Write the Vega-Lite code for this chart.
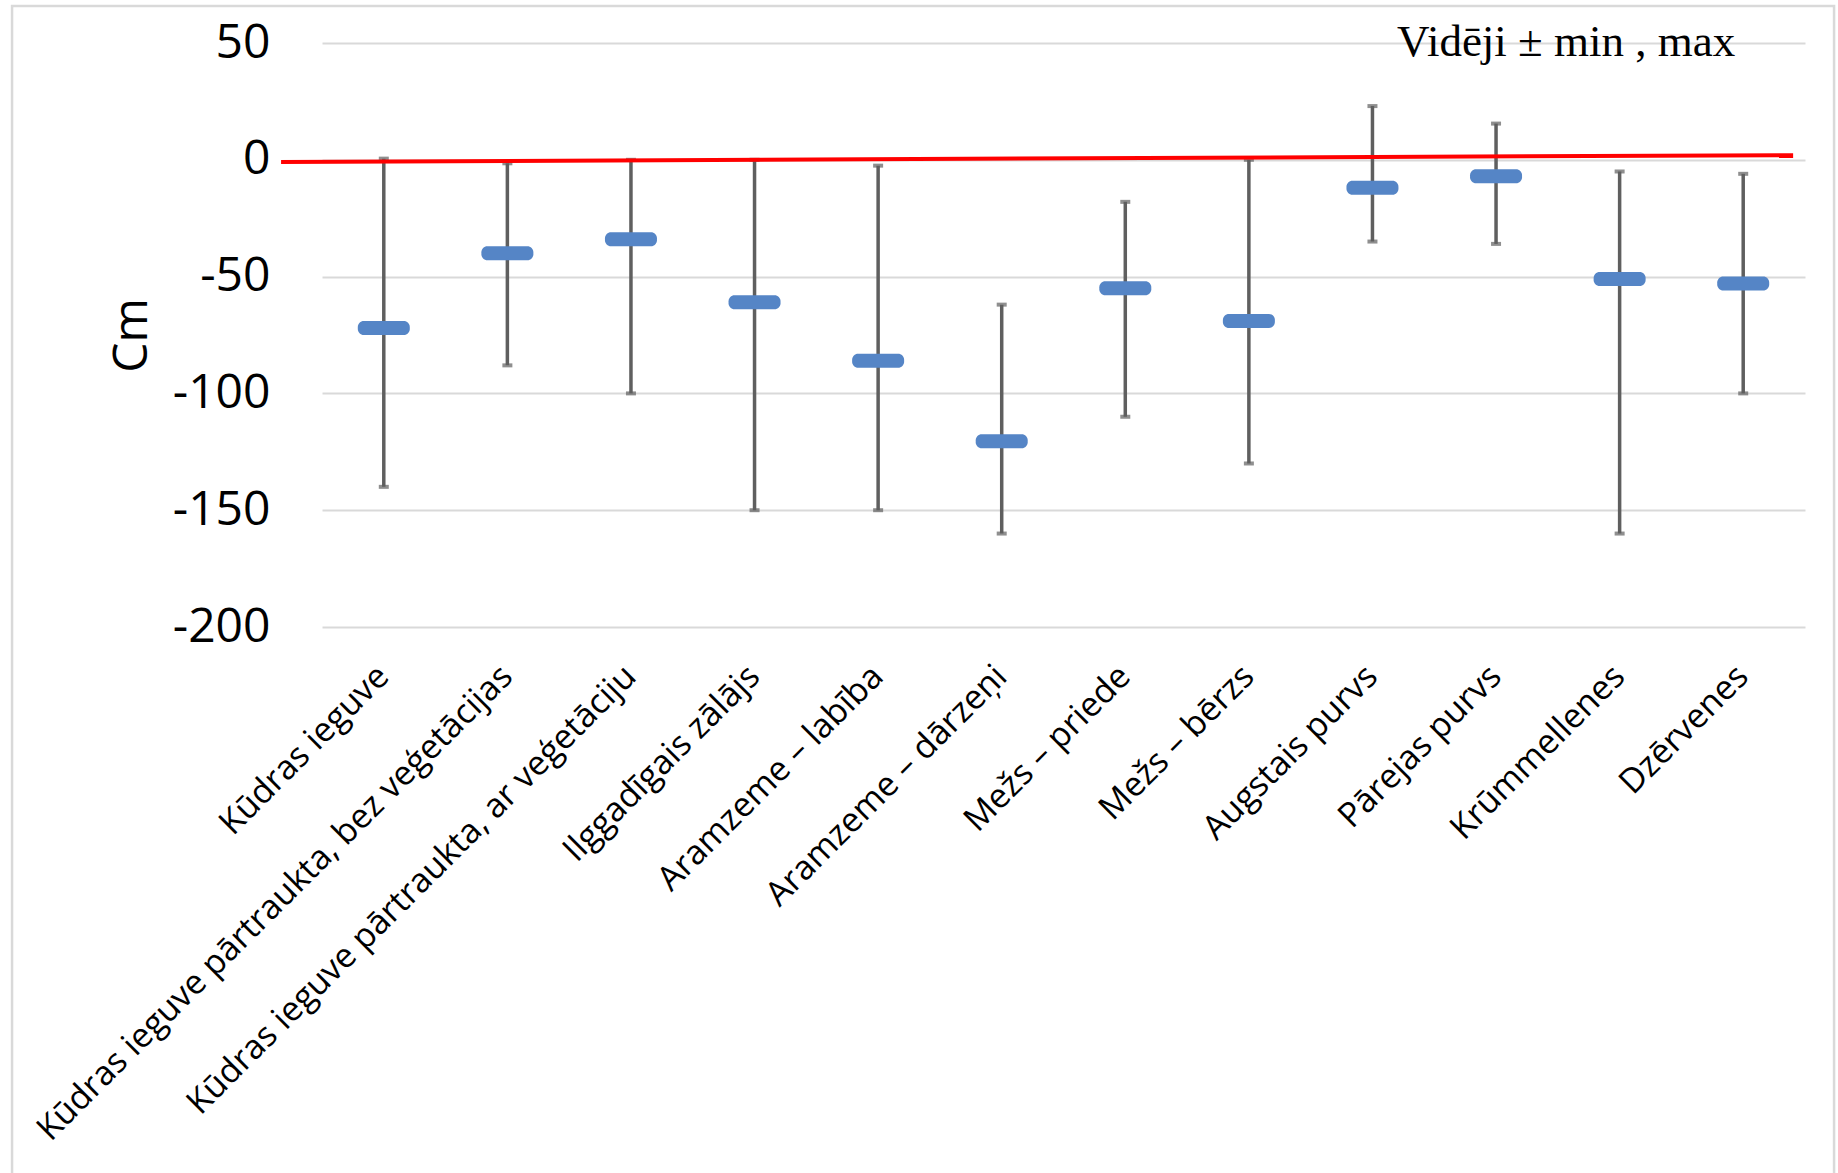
{
  "$schema": "https://vega.github.io/schema/vega-lite/v6.json",
  "width": 1483,
  "height": 584,
  "autosize": {"type": "none"},
  "padding": {"left": 322, "top": 43, "right": 33, "bottom": 546},
  "background": "white",
  "config": {"view": {"stroke": null}, "font": "Open Sans"},
  "data": {
    "values": [
      {"cat": "Kūdras ieguve", "mean": -72, "min": -140, "max": 0.5},
      {"cat": "Kūdras ieguve pārtraukta, bez veģetācijas", "mean": -40, "min": -88, "max": -1.5},
      {"cat": "Kūdras ieguve pārtraukta, ar veģetāciju", "mean": -34, "min": -100, "max": 0},
      {"cat": "Ilggadīgais zālājs", "mean": -61, "min": -150, "max": 0},
      {"cat": "Aramzeme – labība", "mean": -86, "min": -150, "max": -2.5},
      {"cat": "Aramzeme – dārzeņi", "mean": -120.5, "min": -160, "max": -62},
      {"cat": "Mežs – priede", "mean": -55, "min": -110, "max": -18},
      {"cat": "Mežs – bērzs", "mean": -69, "min": -130, "max": 0},
      {"cat": "Augstais purvs", "mean": -12, "min": -35, "max": 23},
      {"cat": "Pārejas purvs", "mean": -7, "min": -36, "max": 15.5},
      {"cat": "Krūmmellenes", "mean": -51, "min": -160, "max": -5},
      {"cat": "Dzērvenes", "mean": -53, "min": -100, "max": -6}
    ]
  },
  "resolve": {"scale": {"x": "independent"}},
  "layer": [
    {
      "encoding": {
        "x": {
          "field": "cat",
          "type": "nominal",
          "sort": null,
          "scale": {"paddingInner": 0, "paddingOuter": 0},
          "axis": {
            "labelAngle": -45,
            "labelAlign": "right",
            "labelBaseline": "middle",
            "labelFontSize": 34,
            "labelPadding": 44,
            "labelLimit": 0,
            "labelColor": "black",
            "ticks": false,
            "domain": false,
            "grid": false,
            "title": null
          }
        }
      },
      "layer": [
        {
          "mark": {"type": "rule", "color": "#5f5f5f", "strokeWidth": 3.5},
          "encoding": {
            "y": {
              "field": "min",
              "type": "quantitative",
              "scale": {"domain": [-200, 50], "nice": false},
              "axis": {
                "values": [-200, -150, -100, -50, 0, 50],
                "labelExpr": "'' + datum.value",
                "title": "Cm",
                "titleFontSize": 48,
                "titleFontWeight": "normal",
                "titleColor": "black",
                "titlePadding": 16,
                "labelFontSize": 48,
                "labelColor": "black",
                "labelPadding": 52,
                "ticks": false,
                "domain": false,
                "gridColor": "#d9d9d9",
                "gridWidth": 2
              }
            },
            "y2": {"field": "max"}
          }
        },
        {
          "mark": {"type": "tick", "color": "#5f5f5f", "size": 10, "thickness": 4},
          "encoding": {"y": {"field": "min", "type": "quantitative"}}
        },
        {
          "mark": {"type": "tick", "color": "#5f5f5f", "size": 10, "thickness": 4},
          "encoding": {"y": {"field": "max", "type": "quantitative"}}
        },
        {
          "mark": {"type": "tick", "color": "#5585c6", "size": 52, "thickness": 14, "cornerRadius": 6, "opacity": 1},
          "encoding": {"y": {"field": "mean", "type": "quantitative"}}
        }
      ]
    },
    {
      "data": {"values": [{}]},
      "layer": [
        {
          "mark": {"type": "rule", "color": "#ff0000", "strokeWidth": 4, "clip": false},
          "encoding": {
            "x": {"datum": -0.0276, "type": "quantitative", "scale": {"domain": [0, 1], "nice": false, "zero": false}, "axis": null},
            "x2": {"datum": 0.992},
            "y": {"datum": -0.9, "type": "quantitative"},
            "y2": {"datum": 2.0}
          }
        },
        {
          "mark": {"type": "text", "text": "Vidēji ± min , max", "font": "Liberation Serif", "fontSize": 45, "align": "right", "baseline": "alphabetic", "color": "black"},
          "encoding": {
            "x": {"datum": 0.953, "type": "quantitative"},
            "y": {"datum": 44.3, "type": "quantitative"}
          }
        },
        {
          "mark": {"type": "rect", "fill": null, "stroke": "#d9d9d9", "strokeWidth": 2.5, "clip": false},
          "encoding": {
            "x": {"datum": -0.209, "type": "quantitative"},
            "x2": {"datum": 1.0196},
            "y": {"datum": 65.8, "type": "quantitative"},
            "y2": {"datum": -600}
          }
        }
      ]
    }
  ]
}
